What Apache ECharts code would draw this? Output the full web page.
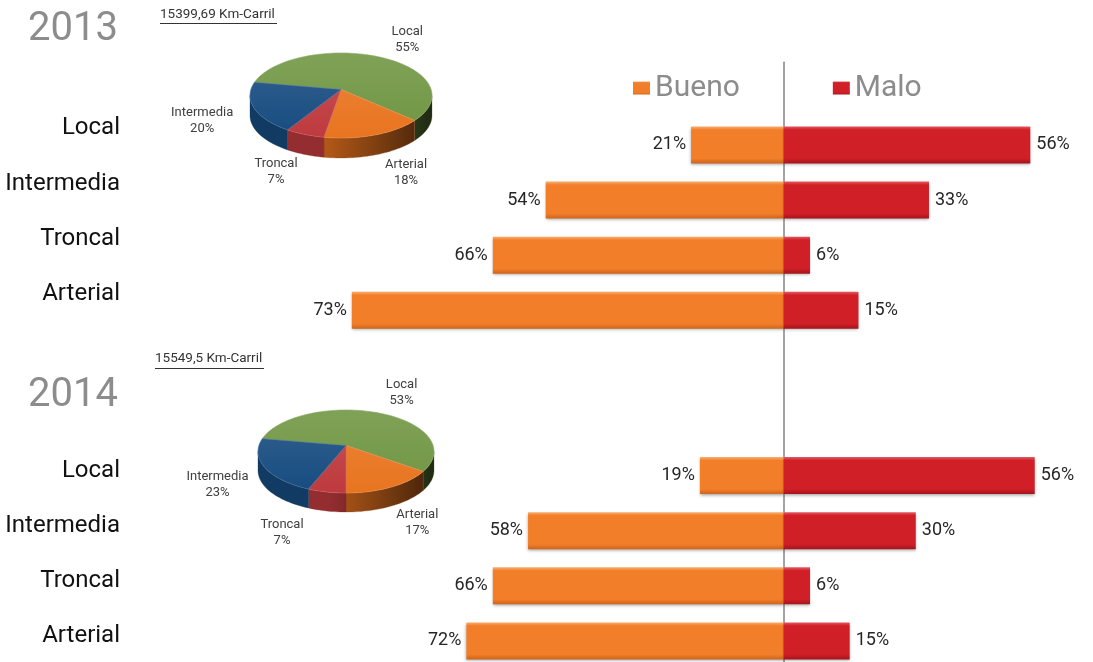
<!DOCTYPE html>
<html><head><meta charset="utf-8">
<script src="https://cdn.jsdelivr.net/npm/echarts@6/dist/echarts.min.js"></script>
<style>html,body{margin:0;padding:0;background:#fff}#c{width:1093px;height:662px}</style>
</head><body><div id="c"></div>
<script>
// ---------- data ----------
const years = ['2013', '2014'];
const kmLabels = ['15399,69 Km-Carril', '15549,5 Km-Carril'];
const roadTypes = ['Local', 'Intermedia', 'Troncal', 'Arterial'];
const seriesNames = ['Bueno', 'Malo'];
// bar lengths as drawn (percent)
const bueno2013 = [21, 54, 66, 98];
const malo2013 = [56, 33, 6, 17];
const bueno2014 = [19, 58, 66, 72];
const malo2014 = [57, 30, 6, 15];
// printed value labels
const buenoText2013 = ['21%', '54%', '66%', '73%'];
const maloText2013 = ['56%', '33%', '6%', '15%'];
const buenoText2014 = ['19%', '58%', '66%', '72%'];
const maloText2014 = ['56%', '30%', '6%', '15%'];
// pie shares (percent)
const pieCats = ['Local', 'Arterial', 'Troncal', 'Intermedia'];
const pie2013 = [55, 18, 7, 20];
const pie2014 = [53, 17, 7, 23];

// ---------- helpers ----------
const FONT = 'Roboto, "Liberation Sans", sans-serif';
const PIE_COLORS = ['#6F9541', '#E8741F', '#BE3A3E', '#174C80'];
function hexToRgb(h) { h = h.replace('#', ''); return [0, 2, 4].map(i => parseInt(h.substr(i, 2), 16)); }
function shade(hex, f) { const c = hexToRgb(hex).map(v => Math.round(v * f)); return 'rgb(' + c.join(',') + ')'; }
function tint(hex, t) { const c = hexToRgb(hex).map(v => Math.round(v + (255 - v) * t)); return 'rgb(' + c.join(',') + ')'; }

// category slots: legend row, 2013 block, two gap rows, 2014 block
const catLabelStyle = lh => ({ fontSize: 24, color: '#111', fontFamily: FONT, verticalAlign: 'bottom', lineHeight: lh });
const yCats = [''].concat(
  roadTypes.map(n => ({ value: n, textStyle: catLabelStyle(33) })),
  ['', ''],
  roadTypes.map(n => ({ value: n, textStyle: catLabelStyle(10) }))
);
function buildData(a, b, texts2013, texts2014, sign) {
  const out = ['-'];
  a.forEach((v, i) => out.push({ value: sign * v, txt: texts2013[i] }));
  out.push('-', '-');
  b.forEach((v, i) => out.push({ value: sign * v, txt: texts2014[i] }));
  return out;
}
const buenoData = buildData(bueno2013, bueno2014, buenoText2013, buenoText2014, -1);
const maloData = buildData(malo2013, malo2014, maloText2013, maloText2014, 1);

function barGrad(light, base, dark) {
  return { type: 'linear', x: 0, y: 0, x2: 0, y2: 1, colorStops: [
    { offset: 0, color: light }, { offset: 0.09, color: base },
    { offset: 0.86, color: base }, { offset: 1, color: dark }] };
}
const buenoColor = barGrad('#F9AE6E', '#F37E2A', '#CF6418');
const maloColor = barGrad('#E35A62', '#D11F27', '#A3141B');

function pieSeries(vals, geo) {
  const total = vals.reduce((a, b) => a + b, 0);
  return {
    type: 'custom', coordinateSystem: 'none', silent: true, z: 5,
    data: vals.map((v, i) => ({ name: pieCats[i], value: v })),
    renderItem: function (params, api) {
      const i = params.dataIndex;
      let acc = 0; for (let j = 0; j < i; j++) acc += vals[j];
      const v = api.value(0);
      const a0 = geo.start + acc / total * 360, a1 = a0 + v / total * 360;
      const rad = d => d * Math.PI / 180;
      const P = (d, dy) => [geo.cx + geo.rx * Math.cos(rad(d)), geo.cy + geo.ry * Math.sin(rad(d)) + (dy || 0)];
      const arc = (s, e, dy) => { const pts = []; const n = Math.max(2, Math.ceil((e - s) / 2)); for (let k = 0; k <= n; k++) pts.push(P(s + (e - s) * k / n, dy)); return pts; };
      const base = PIE_COLORS[i];
      const children = [];
      for (let k = 0; k < 2; k++) {
        const s = Math.max(a0, k * 360), e = Math.min(a1, k * 360 + 180);
        if (e > s) {
          const top = arc(s, e, 0), bot = arc(s, e, geo.depth).reverse();
          children.push({ type: 'polygon', z2: 1, shape: { points: top.concat(bot) },
            style: { fill: { type: 'linear', global: true, x: geo.cx - geo.rx, y: 0, x2: geo.cx + geo.rx, y2: 0,
              colorStops: [{ offset: 0, color: shade(base, 0.78) }, { offset: 0.4, color: shade(base, 0.78) },
                { offset: 0.75, color: shade(base, 0.5) }, { offset: 1, color: shade(base, 0.28) }] },
              stroke: shade(base, 0.6), lineWidth: 0.3 } });
        }
      }
      const apex = [geo.cx, geo.cy - geo.apexUp];
      children.push({ type: 'polygon', z2: 10, shape: { points: [apex].concat(arc(a0, a1, 0)) },
        style: { fill: { type: 'linear', global: true, x: 0, y: geo.cy - geo.ry, x2: 0, y2: geo.cy + geo.ry,
          colorStops: [{ offset: 0, color: tint(base, 0.12) }, { offset: 1, color: base }] },
          stroke: tint(base, 0.2), lineWidth: 0.6 } });
      const m = rad((a0 + a1) / 2);
      const sm = Math.sin(m), cm = Math.cos(m);
      let dx = geo.lrx * cm;
      if (sm > 0.6) dx = Math.sign(cm) * Math.max(Math.abs(dx), geo.minDx);
      const lx = geo.cx + dx;
      const ly = geo.cy + geo.lry * sm + (sm > 0 ? geo.depth * sm : 0);
      children.push({ type: 'text', z2: 20, style: { text: pieCats[i] + '\n' + v + '%', x: lx, y: ly,
        align: 'center', verticalAlign: 'middle', fontSize: 13, lineHeight: 16, fontFamily: FONT, fill: '#404040' } });
      return { type: 'group', children: children };
    }
  };
}

const geo2013 = { cx: 341, cy: 95.5, rx: 91, ry: 42.5, depth: 20, start: 198, apexUp: 6, lrx: 146, lry: 63, minDx: 65 };
const geo2014 = { cx: 346, cy: 451.5, rx: 88, ry: 41.5, depth: 19, start: 198, apexUp: 6, lrx: 140, lry: 64, minDx: 64 };

const chart = echarts.init(document.getElementById('c'), null, { renderer: 'canvas' });
const yearStyle = { fontSize: 40, fontWeight: 'normal', color: '#8C8C8C', fontFamily: FONT };
const option = {
  backgroundColor: '#fff',
  animation: false,
  textStyle: { fontFamily: FONT },
  title: [
    { text: years[0], left: 28, top: 10, padding: 0, textStyle: yearStyle },
    { text: years[1], left: 28, top: 376, padding: 0, textStyle: yearStyle }
  ],
  legend: {
    data: seriesNames, left: 633, top: 73, padding: 0, itemWidth: 17, itemHeight: 13, itemGap: 93, icon: 'rect',
    textStyle: { fontSize: 30, color: '#8C8C8C', fontFamily: FONT }
  },
  graphic: [
    { type: 'text', left: 160, top: 8, style: { text: kmLabels[0], fontSize: 13.5, fill: '#333', fontFamily: FONT } },
    { type: 'line', shape: { x1: 160, y1: 23.5, x2: 277, y2: 23.5 }, style: { stroke: '#333', lineWidth: 1 } },
    { type: 'text', left: 155, top: 352, style: { text: kmLabels[1], fontSize: 13.5, fill: '#333', fontFamily: FONT } },
    { type: 'line', shape: { x1: 155, y1: 368.5, x2: 264, y2: 368.5 }, style: { stroke: '#333', lineWidth: 1 } }
  ],
  grid: { left: 343, top: 62.3, height: 606.2, right: 1, containLabel: false, outerBoundsMode: 'none' },
  xAxis: { type: 'value', min: -100, max: 70, show: false, splitLine: { show: false } },
  yAxis: {
    type: 'category', data: yCats, inverse: true,
    axisLine: { onZero: true, lineStyle: { color: '#858585', width: 1.5 } },
    axisTick: { show: false },
    axisLabel: { interval: 0, margin: 223, fontSize: 24, color: '#111', fontFamily: FONT, verticalAlign: 'bottom', lineHeight: 33 }
  },
  series: [
    { name: seriesNames[0], type: 'bar', stack: 'all', barWidth: 37, data: buenoData,
      itemStyle: { color: buenoColor, shadowBlur: 3, shadowColor: 'rgba(0,0,0,0.35)', shadowOffsetY: 1.5 },
      label: { show: true, position: 'left', distance: 5, fontSize: 18, color: '#262626', fontFamily: FONT, formatter: p => p.data.txt } },
    { name: seriesNames[1], type: 'bar', stack: 'all', barWidth: 37, data: maloData,
      itemStyle: { color: maloColor, shadowBlur: 3, shadowColor: 'rgba(0,0,0,0.35)', shadowOffsetY: 1.5 },
      label: { show: true, position: 'right', distance: 6, fontSize: 18, color: '#262626', fontFamily: FONT, formatter: p => p.data.txt } },
    pieSeries(pie2013, geo2013),
    pieSeries(pie2014, geo2014)
  ]
};
chart.setOption(option);
</script></body></html>
